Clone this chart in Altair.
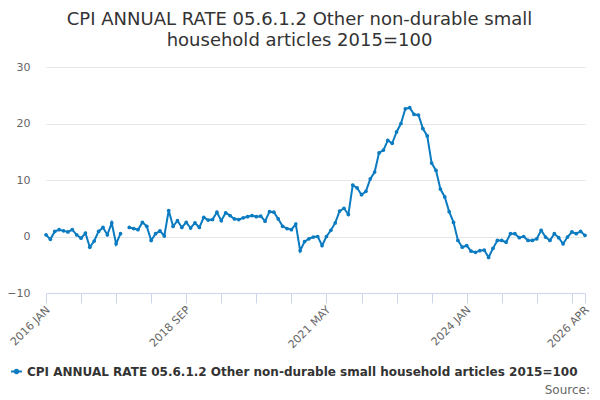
import altair as alt
import pandas as pd

title_lines = ["CPI ANNUAL RATE 05.6.1.2 Other non-durable small", "household articles 2015=100"]
series_name = "CPI ANNUAL RATE 05.6.1.2 Other non-durable small household articles 2015=100"

# monthly categories, 2016 JAN .. 2026 APR
months = [d.strftime("%Y %b").upper() for d in pd.date_range("2016-01-01", periods=124, freq="MS")]

# annual rate (%); None = missing month
values = [
    0.3, -0.5, 0.9, 1.2, 1.0, 0.8, 1.2, 0.3, -0.3, 0.6, -1.9, -0.8, 0.9, 1.6, 0.3, 2.4, -1.3, 0.5, None,
    1.6, 1.4, 1.2, 2.5, 1.8, -0.7, 0.5, 1.0, 0.1, 4.6, 1.8, 2.8, 1.6, 2.5, 1.5, 2.4, 1.6, 3.4, 2.9, 3.0,
    4.3, 2.8, 4.2, 3.7, 3.1,
    3.0, 3.3, 3.5, 3.7, 3.5, 3.6, 2.7, 4.4, 4.3, 3.1, 1.8, 1.4, 1.2, 2.2, -2.5, -0.9, -0.4, -0.1, 0.0,
    -1.6, 0.0, 1.1,
    2.4, 4.5, 5.0, 3.9, 9.1, 8.6, 7.4, 8.0, 10.2, 11.4, 14.8, 15.3, 17.0, 16.5, 18.5, 20.0, 22.6, 22.8,
    21.6, 21.5, 19.1, 17.8, 13.0, 11.7, 8.4, 7.0, 4.4, 2.5, -0.7, -1.9, -1.6, -2.6,
    -2.8, -2.5, -2.4, -3.7, -2.1, -0.7, -0.7, -1.0, 0.5, 0.5, -0.2, 0.0, -0.7, -0.7, -0.4, 1.1, -0.1,
    -0.7, 0.5, -0.2, -1.3, -0.1, 0.8, 0.5, 0.9, 0.2,
]

y_ticks = [-10, 0, 10, 20, 30]
x_tick_idx = list(range(0, 121, 8)) + [123]
x_label_idx = [0, 32, 64, 96, 123]

df = pd.DataFrame({"idx": range(len(values)), "month": months, "rate": values})
df["seg"] = (df["idx"] > 18).astype(int)
df["series"] = series_name
df = df.dropna(subset=["rate"])

label_expr = " : ".join(f"datum.value == {i} ? '{months[i]}'" for i in x_label_idx) + " : ''"

W, H = 539, 226
blue = "#0b7bc1"

line = (
    alt.Chart(df)
    .mark_line(strokeWidth=2, point=alt.OverlayMarkDef(size=14, filled=True, opacity=1))
    .encode(
        x=alt.X(
            "idx:Q",
            scale=alt.Scale(domain=[0, 123], nice=False, zero=False),
            axis=alt.Axis(
                values=x_tick_idx, labelExpr=label_expr, title=None, grid=False,
                domainColor="#ccd6eb", tickColor="#ccd6eb", tickSize=10,
                labelAngle=-45, labelAlign="right", labelBaseline="middle",
                labelColor="#666666", labelFontSize=11, labelOverlap=False,
                labelFlush=False, labelPadding=5, labelOffset=2,
            ),
        ),
        y=alt.Y(
            "rate:Q",
            scale=alt.Scale(domain=[-10, 30], nice=False),
            axis=alt.Axis(
                values=y_ticks, title=None, domain=False, ticks=False, tickSize=0,
                gridColor="#e6e6e6", labelColor="#666666", labelFontSize=11, labelPadding=16,
            ),
        ),
        detail="seg:N",
        color=alt.Color(
            "series:N",
            scale=alt.Scale(range=[blue]),
            legend=alt.Legend(
                title=None, orient="none", legendX=-36, legendY=298,
                symbolType="M-1,0L1,0M-0.3,0A0.3,0.3,0,1,1,0.3,0A0.3,0.3,0,1,1,-0.3,0Z",
                symbolSize=120, symbolStrokeWidth=2, symbolFillColor=blue,
                labelFontSize=12, labelFontWeight="bold", labelColor="#333333", labelLimit=0,
            ),
        ),
        tooltip=["month:N", "rate:Q"],
    )
)

source = (
    alt.Chart(pd.DataFrame({"t": ["Source:"]}))
    .mark_text(align="right", baseline="middle", fontSize=12, color="#666666")
    .encode(x=alt.value(W + 5), y=alt.value(390 - 67), text="t:N")
)

chart = (
    alt.layer(line, source)
    .properties(
        width=W,
        height=H,
        autosize=alt.AutoSizeParams(type="none"),
        padding={"left": 38, "top": 59, "right": 7, "bottom": 110},
        title=alt.TitleParams(
            text=title_lines, fontSize=18, fontWeight="normal", color="#333333",
            anchor="middle", dx=-16, offset=11, lineHeight=21,
        ),
    )
    .configure(font="DejaVu Sans")
    .configure_view(stroke=None)
)

chart.save("out.html", embed_options={"renderer": "svg", "actions": False})
